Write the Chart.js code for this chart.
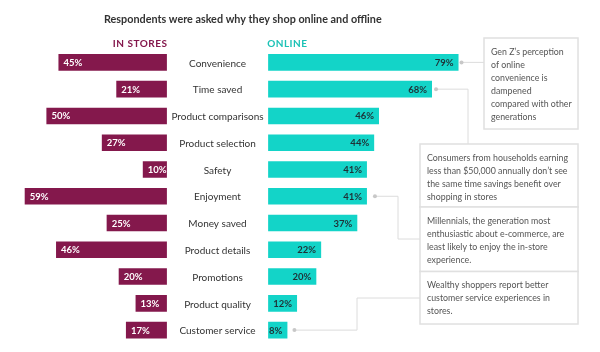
<!DOCTYPE html>
<html>
<head>
<meta charset="utf-8">
<script src="https://cdn.jsdelivr.net/npm/chart.js@4"></script>
<style>
  html, body { margin: 0; padding: 0; background: #fff; }
  #wrap { width: 600px; height: 352px; position: relative; }
</style>
</head>
<body>
<div id="wrap"><canvas id="chart"></canvas></div>
<script>
const title = 'Respondents were asked why they shop online and offline';
const categories = ['Convenience', 'Time saved', 'Product comparisons', 'Product selection', 'Safety',
  'Enjoyment', 'Money saved', 'Product details', 'Promotions', 'Product quality', 'Customer service'];
const inStores = [45, 21, 50, 27, 10, 59, 25, 46, 20, 13, 17];
const online = [79, 68, 46, 44, 41, 41, 37, 22, 20, 12, 8];
const noteRows = [0, 1, 5, 10];
const noteTexts = [
  ['Gen Z\u2019s perception', 'of online', 'convenience is', 'dampened', 'compared with other', 'generations'],
  ['Consumers from households earning', 'less than $50,000 annually don\u2019t see', 'the same time savings benefit over', 'shopping in stores'],
  ['Millennials, the generation most', 'enthusiastic about e-commerce, are', 'least likely to enjoy the in-store', 'experience.'],
  ['Wealthy shoppers report better', 'customer service experiences in', 'stores.']
];

const GAP = 21; // half width of the label column, in % units
const MAROON = '#84184c';
const TEAL = '#13d4c8';
const FONT = 'Lato, "Open Sans", sans-serif';

// boxes and connector elbows (layout only)
const boxes = [
  { x: 484, y: 38, w: 94, h: 91, tx: 491, ty: 52 },
  { x: 420, y: 144, w: 158, h: 63, tx: 427, ty: 158 },
  { x: 420, y: 207, w: 158, h: 64.5, tx: 427, ty: 221 },
  { x: 420, y: 271.5, w: 158, h: 52.5, tx: 427, ty: 285 }
];
const routes = [
  (d, b) => [[d, null], [b.x, null]],
  (d, b) => [[d, null], [468, null], [468, b.y]],
  (d, b) => [[d, null], [398, null], [398, 239], [b.x, 239]],
  (d, b) => [[d, null], [357, null], [357, 298], [b.x, 298]]
];
const dotOffset = [3, 4, 8, 7];

const overlay = {
  id: 'overlay',
  afterDatasetsDraw(chart) {
    const ctx = chart.ctx;
    const xs = chart.scales.x, ys = chart.scales.y;
    const mid = xs.getPixelForValue(0);
    ctx.save();
    ctx.textBaseline = 'middle';

    ctx.font = 'bold 10.8px ' + FONT;
    ctx.fillStyle = '#333';
    ctx.textAlign = 'left';
    ctx.fillText(title, 104, 20);

    ctx.font = 'bold 10px ' + FONT;
    ctx.letterSpacing = '0.5px';
    ctx.fillStyle = MAROON;
    ctx.textAlign = 'right';
    ctx.fillText('IN STORES', xs.getPixelForValue(-GAP) + 0.5, 44);
    ctx.fillStyle = '#1cc2b6';
    ctx.textAlign = 'left';
    ctx.fillText('ONLINE', xs.getPixelForValue(GAP) - 1, 44);
    ctx.letterSpacing = '0px';

    ctx.font = '10px ' + FONT;
    ctx.fillStyle = '#333';
    ctx.textAlign = 'center';
    categories.forEach((c, i) => ctx.fillText(c, mid, ys.getPixelForValue(i) + 1));

    ctx.font = 'bold 9.5px ' + FONT;
    const left = chart.getDatasetMeta(0).data;
    const right = chart.getDatasetMeta(1).data;
    ctx.fillStyle = '#fff';
    ctx.textAlign = 'left';
    left.forEach((el, i) => ctx.fillText(inStores[i] + '%', el.x + 5, el.y + 0.5));
    ctx.fillStyle = '#1f3036';
    ctx.textAlign = 'right';
    right.forEach((el, i) => ctx.fillText(online[i] + '%', el.x - 5, el.y + 0.5));

    // connectors
    noteRows.forEach((row, k) => {
      const el = right[row];
      const dx = el.x + dotOffset[k];
      const pts = routes[k](dx, boxes[k]).map(p => [p[0], p[1] === null ? el.y : p[1]]);
      ctx.strokeStyle = '#dcdcdc';
      ctx.lineWidth = 1;
      ctx.beginPath();
      pts.forEach((p, j) => j ? ctx.lineTo(p[0], p[1]) : ctx.moveTo(p[0], p[1]));
      ctx.stroke();
      ctx.fillStyle = '#c8c8c8';
      ctx.beginPath();
      ctx.arc(dx, el.y, 2, 0, Math.PI * 2);
      ctx.fill();
    });

    // note boxes
    ctx.font = '8.8px ' + FONT;
    ctx.textAlign = 'left';
    boxes.forEach((b, k) => {
      ctx.fillStyle = '#fff';
      ctx.fillRect(b.x, b.y, b.w, b.h);
      ctx.strokeStyle = '#e0e0e0';
      ctx.lineWidth = 1.5;
      ctx.strokeRect(b.x, b.y, b.w, b.h);
      ctx.fillStyle = '#555';
      noteTexts[k].forEach((t, j) => ctx.fillText(t, b.tx, b.ty + j * 13));
    });
    ctx.restore();
  }
};

new Chart(document.getElementById('chart'), {
  type: 'bar',
  data: {
    labels: categories,
    datasets: [
      { label: 'In stores', data: inStores.map(v => [-GAP, -GAP - v]), backgroundColor: MAROON },
      { label: 'Online', data: online.map(v => [GAP, GAP + v]), backgroundColor: TEAL }
    ]
  },
  options: {
    indexAxis: 'y',
    responsive: true,
    maintainAspectRatio: false,
    animation: false,
    layout: { padding: { top: 49, bottom: 8.5, left: 0, right: 0 } },
    datasets: { bar: { grouped: false, categoryPercentage: 1, barPercentage: 0.62 } },
    scales: {
      x: { display: false, min: -90.25, max: 158.7 },
      y: { display: false }
    },
    plugins: { legend: { display: false }, tooltip: { enabled: false }, title: { display: false } }
  },
  plugins: [overlay]
});
</script>
</body>
</html>
